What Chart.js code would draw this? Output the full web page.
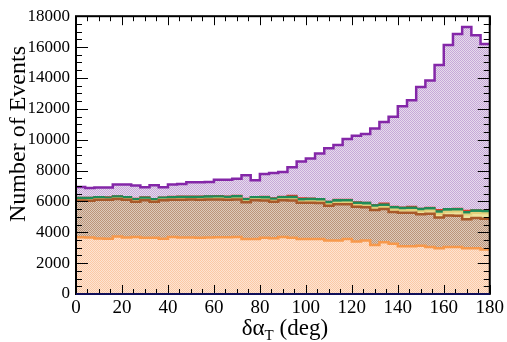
<!doctype html>
<html lang="en">
<head>
<meta charset="utf-8" />
<title>delta alpha_T stack</title>
<script src="https://cdn.jsdelivr.net/npm/chart.js"></script>
<style>
  html, body { margin: 0; padding: 0; background: #fff; }
  .wrap { width: 507px; height: 342px; position: relative; }
</style>
</head>
<body>
<div class="wrap"><canvas id="stack"></canvas></div>
<script>
// 4-degree bins, lower edges; last bin closes at 180
const binLow = [0, 4, 8, 12, 16, 20, 24, 28, 32, 36, 40, 44, 48, 52, 56, 60, 64, 68, 72, 76, 80, 84, 88,
  92, 96, 100, 104, 108, 112, 116, 120, 124, 128, 132, 136, 140, 144, 148, 152, 156, 160, 164, 168, 172, 176];
const binHigh = 180;

// cumulative stack levels (events), bottom layer first
const orangeTop = [3680, 3660, 3600, 3580, 3720, 3660, 3700, 3640, 3650, 3580, 3690, 3660, 3660, 3650, 3660,
  3670, 3680, 3700, 3570, 3560, 3650, 3620, 3700, 3650, 3570, 3570, 3560, 3460, 3460, 3570, 3400, 3460,
  3180, 3350, 3250, 3100, 3100, 3120, 3050, 2970, 3050, 3050, 2970, 2970, 2880];
const brownTop = [6060, 6050, 6100, 6100, 6150, 6100, 5980, 6080, 5970, 6080, 6100, 6100, 6120, 6100, 6120,
  6130, 6100, 6130, 5950, 6080, 6060, 5980, 6070, 6060, 5920, 5920, 5900, 5720, 5820, 5820, 5650, 5620,
  5450, 5500, 5320, 5270, 5270, 5170, 5200, 4960, 5080, 5070, 4850, 4930, 4880];
const yellowTop = [6090, 6080, 6140, 6130, 6180, 6140, 6020, 6110, 6010, 6120, 6140, 6150, 6160, 6150, 6170,
  6190, 6150, 6190, 6010, 6140, 6130, 6040, 6140, 6140, 6000, 6010, 5990, 5820, 5920, 5930, 5770, 5740,
  5590, 5630, 5470, 5430, 5440, 5360, 5410, 5200, 5330, 5350, 5150, 5250, 5230];
const greenTop = [6230, 6230, 6280, 6260, 6330, 6280, 6160, 6260, 6150, 6250, 6290, 6300, 6300, 6300, 6330,
  6340, 6300, 6350, 6160, 6280, 6290, 6190, 6290, 6300, 6150, 6170, 6150, 5970, 6090, 6090, 5930, 5910,
  5750, 5800, 5640, 5590, 5610, 5520, 5580, 5360, 5500, 5510, 5320, 5420, 5390];
const redTop = [6240, 6240, 6290, 6270, 6340, 6290, 6170, 6270, 6160, 6260, 6300, 6310, 6310, 6310, 6340,
  6350, 6310, 6360, 6170, 6290, 6300, 6200, 6300, 6370, 6210, 6180, 6160, 5980, 6100, 6100, 5940, 5920,
  5760, 5860, 5650, 5600, 5660, 5530, 5590, 5440, 5510, 5520, 5390, 5430, 5400];
const totalTop = [6940, 6875, 6900, 6900, 7090, 7090, 7025, 6920, 7045, 6920, 7090, 7130, 7240, 7240, 7260,
  7410, 7410, 7475, 7690, 7370, 7770, 7835, 7900, 8220, 8580, 8780, 9100, 9440, 9650, 10040, 10250, 10360,
  10720, 11150, 11490, 12170, 12560, 13410, 13840, 14840, 16140, 16840, 17300, 16760, 16200];

const yTicks = [0, 2000, 4000, 6000, 8000, 10000, 12000, 14000, 16000, 18000];
const xTicks = [0, 20, 40, 60, 80, 100, 120, 140, 160, 180];

const SERIF = '"Liberation Serif", "DejaVu Serif", serif';

// checkered fill, like the hatch styles of the old plotting package
function checker(a, b) {
  const c = document.createElement('canvas');
  c.width = 2; c.height = 2;
  const g = c.getContext('2d');
  g.fillStyle = b; g.fillRect(0, 0, 2, 2);
  g.fillStyle = a; g.fillRect(0, 0, 1, 1); g.fillRect(1, 1, 1, 1);
  return g.createPattern(c, 'repeat');
}

function steps(levels) {
  const pts = binLow.map((x, i) => ({ x, y: levels[i] }));
  pts.push({ x: binHigh, y: levels[levels.length - 1] });
  return pts;
}

function layer(levels, line, fill, fillTo, width) {
  return {
    data: steps(levels),
    borderColor: line,
    backgroundColor: fill,
    borderWidth: width || 2,
    fill: fillTo,
    stepped: 'before',
    pointRadius: 0,
    borderJoinStyle: 'miter',
  };
}

// frame, inside ticks on all four sides, axis titles
const frameTicks = {
  id: 'frameTicks',
  afterDatasetsDraw(chart) {
    const { ctx, chartArea: a, scales: { x, y } } = chart;
    ctx.save();
    ctx.strokeStyle = '#000';
    ctx.lineWidth = 1;
    ctx.beginPath();
    for (let v = 0; v <= 180; v += 5) {
      const px = Math.round(x.getPixelForValue(v)) + 0.5;
      const len = v % 20 === 0 ? 9 : 5;
      ctx.moveTo(px, a.bottom); ctx.lineTo(px, a.bottom - len);
      ctx.moveTo(px, a.top); ctx.lineTo(px, a.top + len);
    }
    for (let v = 0; v <= 18000; v += 500) {
      const py = Math.round(y.getPixelForValue(v)) + 0.5;
      const len = v % 2000 === 0 ? 12 : 6;
      ctx.moveTo(a.left, py); ctx.lineTo(a.left + len, py);
      ctx.moveTo(a.right, py); ctx.lineTo(a.right - len, py);
    }
    ctx.stroke();
    ctx.lineWidth = 2;
    ctx.strokeRect(a.left, a.top, a.right - a.left, a.bottom - a.top);
    ctx.strokeStyle = '#10105a';
    ctx.beginPath();
    ctx.moveTo(a.left, a.bottom); ctx.lineTo(a.right, a.bottom);
    ctx.stroke();
    ctx.restore();
  },
  afterDraw(chart) {
    const { ctx, chartArea: a } = chart;
    ctx.save();
    ctx.fillStyle = '#000';
    // x title: δα_T (deg)
    const big = '23px ' + SERIF, small = '15px ' + SERIF;
    ctx.font = big; const w1 = ctx.measureText('δα').width;
    const w3 = ctx.measureText(' (deg)').width;
    ctx.font = small; const w2 = ctx.measureText('T').width;
    let xs = (a.left + a.right) / 2 - (w1 + w2 + w3) / 2 + 2;
    const base = 335;
    ctx.textBaseline = 'alphabetic'; ctx.textAlign = 'left';
    ctx.font = big; ctx.fillText('δα', xs, base); xs += w1;
    ctx.font = small; ctx.fillText('T', xs, base + 5); xs += w2;
    ctx.font = big; ctx.fillText(' (deg)', xs, base);
    // y title
    ctx.translate(25, 134);
    ctx.rotate(-Math.PI / 2);
    ctx.textAlign = 'center';
    ctx.font = '24px ' + SERIF;
    ctx.fillText('Number of Events', 0, 0);
    ctx.restore();
  }
};

new Chart(document.getElementById('stack'), {
  type: 'line',
  data: {
    datasets: [
      layer(orangeTop, '#f7994c', checker('#fbc9a6', '#fde4d2'), 'origin', 2.5),
      layer(brownTop, '#a8592a', checker('#bc9479', '#ddcbbb'), '-1', 2.5),
      layer(yellowTop, '#e2cf7a', '#eee39e', '-1'),
      layer(greenTop, '#1f8a58', '#2a9462', '-1'),
      layer(redTop, '#de3a28', '#de3a28', '-1'),
      layer(totalTop, '#8427a8', checker('#c7a8d8', '#e6dbec'), '-1', 2.5),
    ]
  },
  options: {
    responsive: true,
    maintainAspectRatio: false,
    animation: false,
    devicePixelRatio: 1,
    layout: { padding: { top: 12, right: 15, left: 0, bottom: 0 } },
    plugins: { legend: { display: false }, tooltip: { enabled: false } },
    scales: {
      x: {
        type: 'linear', min: 0, max: 180,
        grid: { display: false, drawTicks: false }, border: { display: false },
        afterBuildTicks: s => { s.ticks = xTicks.map(v => ({ value: v })); },
        afterFit: s => { s.height = 48; },
        ticks: { color: '#000', padding: 3, maxRotation: 0, autoSkip: false,
          font: { family: SERIF, size: 19 } }
      },
      y: {
        min: 0, max: 18000,
        grid: { display: false, drawTicks: false }, border: { display: false },
        afterBuildTicks: s => { s.ticks = yTicks.map(v => ({ value: v })); },
        afterFit: s => { s.width = 76; },
        ticks: { color: '#000', padding: 6, autoSkip: false,
          font: { family: SERIF, size: 17 }, callback: v => String(v) }
      }
    }
  },
  plugins: [frameTicks]
});
</script>
</body>
</html>
